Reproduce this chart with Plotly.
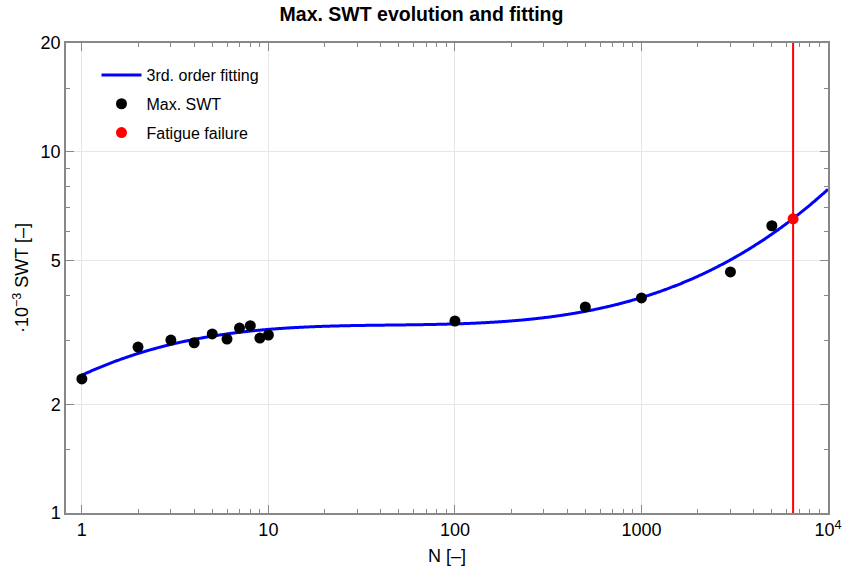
import numpy as np
import plotly.graph_objects as go

# Data
cycles = [1, 2, 3, 4, 5, 6, 7, 8, 9, 10, 100, 500, 1000, 3000, 5000]
swt_max = [2.35, 2.88, 3.01, 2.96, 3.13, 3.03, 3.25, 3.30, 3.05, 3.11, 3.40, 3.72, 3.94, 4.65, 6.24]
failure_n = [6500]
failure_swt = [6.52]

x_ticks = [1, 10, 100, 1000, 10000]
x_ticktext = ["1", "10", "100", "1000", "10<sup>4</sup>"]
y_ticks = [1, 2, 5, 10, 20]
y_ticktext = ["1", "2", "5", "10", "20"]
y_minor = [1.5, 3, 4, 6, 7, 8, 9, 15]
x_minor = [m * 10 ** d for d in range(0, 4) for m in range(2, 10)]

# 3rd order fit in log-log space
u = np.log10(cycles + failure_n)
v = np.log10(swt_max + failure_swt)
coef = np.polyfit(u, v, 3)
n_fit = np.logspace(0, 4, 600)
swt_fit = 10 ** np.polyval(coef, np.log10(n_fit))

font = "Liberation Sans, Arial"

fig = go.Figure()
fig.add_trace(go.Scatter(x=n_fit, y=swt_fit, mode="lines", name="3rd. order fitting",
                         legendgroup="g1",
                         line=dict(color="#0000ff", width=3, simplify=False, shape="spline")))
fig.add_trace(go.Scatter(x=cycles, y=swt_max, mode="markers", name="Max. SWT",
                         legendgroup="g2",
                         marker=dict(color="black", size=11)))
fig.add_trace(go.Scatter(x=failure_n, y=failure_swt, mode="markers", name="Fatigue failure",
                         legendgroup="g3",
                         marker=dict(color="#ff0000", size=11)))
fig.add_vline(x=failure_n[0], line=dict(color="#ff0000", width=2))

axis_common = dict(
    showline=True, linecolor="#888888", linewidth=1.5, mirror="ticks",
    ticks="inside", ticklen=8, tickcolor="#888888", tickwidth=1,
    showgrid=True, gridcolor="#e6e6e6", gridwidth=1, zeroline=False,
    automargin=False,
    tickfont=dict(family=font, size=18, color="black"),
)

fig.update_xaxes(type="log", range=[-0.085, 4], tickmode="array", tickvals=x_ticks,
                 ticktext=x_ticktext,
                 title=dict(text="N [–]", font=dict(family=font, size=18, color="black"),
                            standoff=10),
                 minor=dict(tickmode="array", tickvals=x_minor, ticks="inside", ticklen=4,
                            tickcolor="#888888", showgrid=False),
                 **axis_common)
fig.update_yaxes(type="log", range=[0, np.log10(20)], tickmode="array", tickvals=y_ticks,
                 ticktext=y_ticktext,
                 title=dict(text="·10<sup>−3</sup> SWT [–]",
                            font=dict(family=font, size=18, color="black"),
                            standoff=7),
                 minor=dict(tickmode="array", tickvals=y_minor, ticks="inside", ticklen=4,
                            tickcolor="#888888", showgrid=False),
                 **axis_common)

fig.update_layout(
    width=843, height=571,
    margin=dict(l=66, r=15, t=43, b=58),
    paper_bgcolor="white", plot_bgcolor="white",
    title=dict(text="<b>Max. SWT evolution and fitting</b>", x=0.5, xanchor="center",
               y=0.988, yanchor="top",
               font=dict(family=font, size=19.5, color="black")),
    legend=dict(x=0.04, y=0.968, xanchor="left", yanchor="top", bgcolor="rgba(0,0,0,0)",
                font=dict(family=font, size=16, color="black"),
                itemwidth=40, tracegroupgap=5),
    showlegend=True,
)

fig.write_html("out.html")
